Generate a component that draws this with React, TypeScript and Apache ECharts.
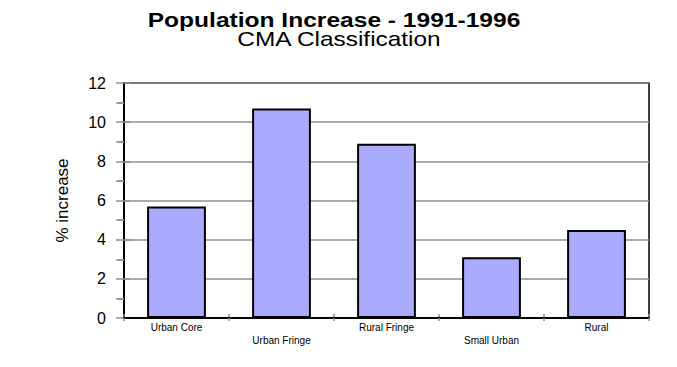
import React, { useEffect, useRef } from "react";
import * as echarts from "echarts";

const categories = ["Urban Core", "Urban Fringe", "Rural Fringe", "Small Urban", "Rural"];
const increase = [5.7, 10.7, 8.9, 3.1, 4.5];
const yTicks = { min: 0, max: 12, interval: 2 };
const chartTitle = "Population Increase - 1991-1996";
const chartSubtitle = "CMA Classification";

const FONT = "Liberation Sans, Arial, sans-serif";

export default function App() {
  const ref = useRef<HTMLDivElement>(null);

  useEffect(() => {
    if (!ref.current) return;
    const chart = echarts.init(ref.current, null, { renderer: "svg" });
    const gridLine = "#8f8f8f";
    chart.setOption({
      animation: false,
      backgroundColor: "#ffffff",
      graphic: [
        {
          type: "text",
          x: 326,
          y: 12,
          scaleX: 1.17,
          style: {
            text: chartTitle,
            textAlign: "center",
            textVerticalAlign: "middle",
            fontFamily: FONT,
            fontSize: 21,
            fontWeight: "bold",
            fill: "#000",
          },
        },
        {
          type: "text",
          x: 331,
          y: 31,
          scaleX: 1.22,
          style: {
            text: chartSubtitle,
            textAlign: "center",
            textVerticalAlign: "middle",
            fontFamily: FONT,
            fontSize: 20,
            fill: "#000",
          },
        },
      ],
      grid: {
        left: 116,
        right: 20,
        top: 75,
        bottom: 41,
        show: true,
        borderColor: "#000",
        borderWidth: 1.5,
        backgroundColor: "transparent",
      },
      xAxis: [
        {
          type: "category",
          data: categories,
          axisLine: { lineStyle: { color: "#000", width: 2 } },
          axisTick: { show: true, length: 3, lineStyle: { color: gridLine, width: 1.5 } },
          axisLabel: {
            interval: 0,
            margin: 3,
            fontFamily: FONT,
            fontSize: 10,
            color: "#000",
            lineHeight: 13,
            formatter: (v: string, i: number) => (i % 2 === 1 ? "\n" + v : v),
          },
          z: 5,
        },
        {
          type: "category",
          data: categories,
          position: "bottom",
          axisLine: { show: false },
          axisTick: { show: true, inside: true, length: 4, lineStyle: { color: gridLine, width: 1.5 } },
          axisLabel: { show: false },
        },
      ],
      yAxis: [
        {
          type: "value",
          ...yTicks,
          name: "% increase",
          nameLocation: "middle",
          nameGap: 53,
          nameTextStyle: { fontFamily: FONT, fontSize: 17, color: "#000" },
          axisLine: { show: true, lineStyle: { color: "#000", width: 2 } },
          axisTick: { show: true, length: 8, lineStyle: { color: gridLine, width: 1.5 } },
          minorTick: { show: true, splitNumber: 2, length: 8, lineStyle: { color: gridLine, width: 1.5 } },
          axisLabel: { margin: 18, fontFamily: FONT, fontSize: 16, color: "#000" },
          splitLine: { show: true, lineStyle: { color: gridLine, width: 1.5 } },
        },
        {
          type: "value",
          ...yTicks,
          position: "left",
          axisLine: { show: false },
          axisTick: { show: true, inside: true, length: 6, lineStyle: { color: gridLine, width: 1.5 } },
          minorTick: { show: true, splitNumber: 2, length: -6, lineStyle: { color: gridLine, width: 1.5 } },
          axisLabel: { show: false },
          splitLine: { show: false },
        },
      ],
      series: [
        {
          type: "bar",
          data: increase,
          barWidth: "56%",
          itemStyle: { color: "#aaaaff", borderColor: "#000", borderWidth: 2 },
          z: 3,
        },
      ],
    });
    return () => chart.dispose();
  }, []);

  return <div ref={ref} style={{ width: 661, height: 351 }} />;
}
